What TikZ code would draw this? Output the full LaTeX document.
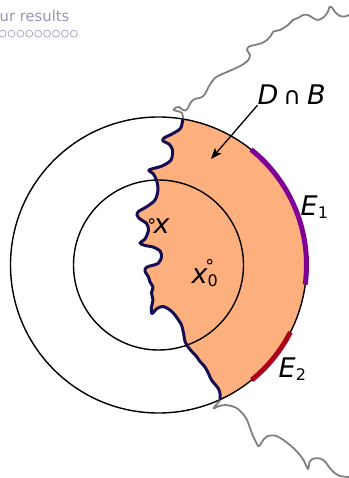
\documentclass[tikz,border=0pt]{standalone}
\usepackage{fontspec}
\setmainfont{DejaVu Sans}
\usetikzlibrary{arrows.meta,calc}
\definecolor{fillor}{RGB}{253,176,125}
\definecolor{navyc}{RGB}{22,12,82}
\definecolor{eone}{RGB}{128,0,150}
\definecolor{etwo}{RGB}{170,0,30}
\definecolor{navtxt}{RGB}{155,148,180}
\definecolor{wig}{RGB}{128,128,128}
\newcommand\mysub[1]{\raisebox{-3pt}{\fontsize{16}{16}\selectfont\upshape #1}}
\tikzset{
  ring/.style={line width=1.4pt, black},
  navyline/.style={line width=3pt, navyc, line join=round, line cap=round},
  wigline/.style={line width=1.8pt, wig, line join=round, line cap=round},
  lbl/.style={inner sep=0pt, anchor=base west, font=\fontsize{27}{30}\selectfont\itshape},
  dotc/.style={circle, draw, line width=1pt, minimum size=4.6pt, inner sep=0pt},
  navc/.style={circle, draw=navtxt, line width=0.6pt, minimum size=7pt, inner sep=0pt},
  arr/.style={line width=1.3pt, -{Stealth[length=11pt,width=8.5pt,inset=2.5pt]}},
}
\begin{document}
\begin{tikzpicture}[x=1pt,y=-1pt]
\useasboundingbox (0,0) rectangle (348,478);
\coordinate (c) at (158.5,265);
% orange region D cap B
\fill[fillor] plot[smooth,tension=0.5] coordinates {
(182.93,119.03) (182,124) (180,129) (172,134) (164,138) (163,141) (169,144) (172.5,150)
(171,160) (162,166) (149,170) (153,173.5) (156.5,180) (158,190) (155,200) (147,206.5)
(138.5,211.5) (137,215) (140,219) (146.5,223.5) (148.5,230) (145,239) (140,243)
(145,245.5) (153,247) (160,251) (161.5,257) (158,263.5) (147,267) (145,271) (148.5,277)
(150,282) (153,287) (151.5,293) (153,300) (151.5,307) (152,313.5) (157,308.5)
(163,306.5) (170,310) (175,315) (178.5,320) (181.5,325) (183.5,333) (185,341.5)
(187,345.5) (190.5,350) (196.5,356.5) (200,361.5) (205,367) (208.5,373.5) (211.5,380)
(218,388) (220,393.5) (220.1,399.6)}
 arc[start angle=65.4, end angle=-80.5, radius=148] -- cycle;
% circles
\draw[ring] (c) circle[radius=148];
\draw[ring] (c) circle[radius=85];
% boundary of D
\draw[navyline] plot[smooth,tension=0.5] coordinates {
(182.93,119.03) (182,124) (180,129) (172,134) (164,138) (163,141) (169,144) (172.5,150)
(171,160) (162,166) (149,170) (153,173.5) (156.5,180) (158,190) (155,200) (147,206.5)
(138.5,211.5) (137,215) (140,219) (146.5,223.5) (148.5,230) (145,239) (140,243)
(145,245.5) (153,247) (160,251) (161.5,257) (158,263.5) (147,267) (145,271) (148.5,277)
(150,282) (153,287) (151.5,293) (153,300) (151.5,307) (152,313.5) (157,308.5)
(163,306.5) (170,310) (175,315) (178.5,320) (181.5,325) (183.5,333) (185,341.5)
(187,345.5) (190.5,350) (196.5,356.5) (200,361.5) (205,367) (208.5,373.5) (211.5,380)
(218,388) (220,393.5) (220.1,399.6)};
% grey continuation, top
\draw[wigline] plot[smooth,tension=0.5] coordinates {
(183,118) (182,113) (177,111) (173.5,110) (176,107.5) (179,107) (182,109.5) (185,110.5)
(188,108) (191,102) (195,99) (201,97.5) (205,94) (208,88) (211,83) (215,78) (220,75)
(227,72) (235,68.5) (242,65) (248,60.5) (250,55) (247,50) (249,46.5) (255,45) (262,43)
(267,40) (271,35.5) (273.5,31.5) (280,30) (288,25) (293,20) (298,18) (303,15) (308,15)
(313,18) (318,20) (324,17) (328,11.5) (329.5,7) (332,7.5) (335,12) (340,16) (345,16.5)
(349,15)};
% grey continuation, bottom
\draw[wigline] plot[smooth,tension=0.5] coordinates {
(220,400.5) (216,405) (213.5,408.5) (219,406) (226,405) (233,406.5) (238,409) (243,414)
(247,420) (250,428) (253,436) (255.5,441) (258.5,446.5) (261,443.5) (264,439) (268,436)
(275,435.5) (282,439) (288,443.5) (294,448.5) (299,454) (303.5,460) (308,469)
(309.5,462) (313.5,458.5) (320,458.5) (325,461.5) (329,467) (334,472.5) (340,476)
(349,477)};
% boundary pieces E1, E2
\draw[eone, line width=5pt] ($(c)+(-51.3:148)$) arc[start angle=-51.3, end angle=7.6, radius=148];
\draw[etwo, line width=5pt] ($(c)+(27:148)$) arc[start angle=27, end angle=51, radius=148];
% points
\node[dotc] (xd) at (151.7,221) {};
\node[dotc] (xod) at (209.7,261.7) {};
% labels
\node[lbl] (xl) at (153.5,233) {x};
\node[lbl] (xol) at (191.5,283) {x\mysub{0}};
\node[lbl] (e1) at (300.5,215.5) {E\mysub{1}};
\node[lbl] (e2) at (278.5,377.5) {E\mysub{2}};
\node[lbl] (dnb) at (257.5,105) {D\hspace{5pt}{\fontsize{24}{24}\selectfont\upshape ∩}\hspace{6pt}B};
\coordinate (tip) at (211,159);
\draw[arr] (dnb.south west) -- (tip);
% navigation remnants
\node[inner sep=0pt, anchor=base west, text=navtxt, font=\fontsize{14.8}{16}\selectfont] (title) at (-0.5,22) {ur results};
\foreach \i in {0,...,8} \node[navc] (n\i) at ({2.6+8.9*\i},33.7) {};
\end{tikzpicture}
\end{document}
